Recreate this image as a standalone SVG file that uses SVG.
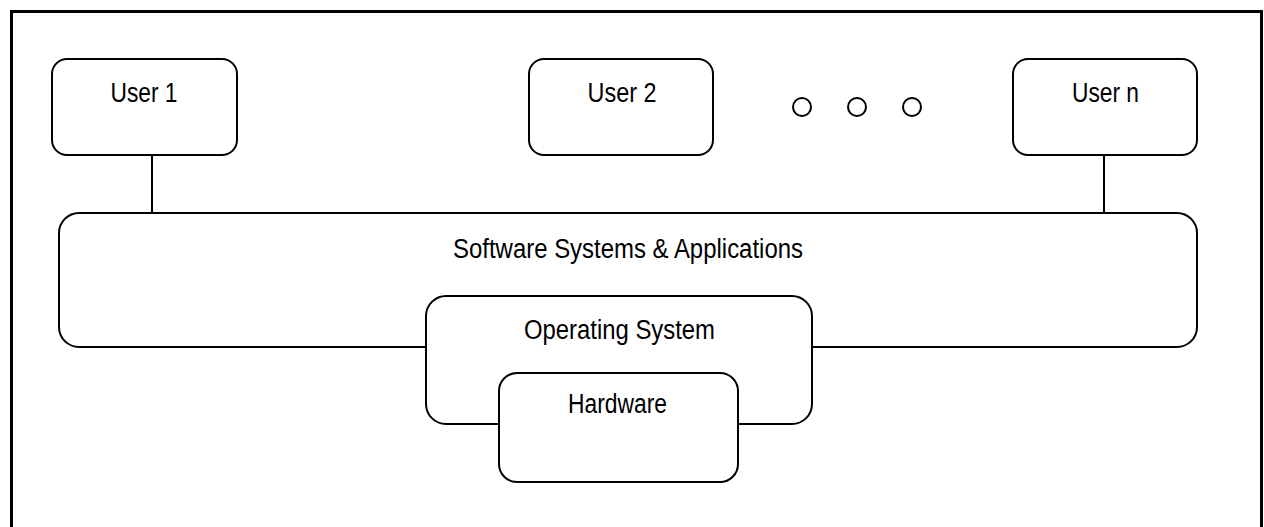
<svg xmlns="http://www.w3.org/2000/svg" width="1264" height="527" viewBox="0 0 1264 527">
<style>
.box{fill:#fff;stroke:#000;stroke-width:2}
.lbl{font-family:"Liberation Sans",Arial,sans-serif;font-size:27px;fill:#000;text-anchor:middle}
.conn{stroke:#000;stroke-width:2;fill:none}
.dot{fill:#fff;stroke:#000;stroke-width:2}
</style>
<rect x="0" y="0" width="1264" height="527" fill="#fff"/>
<rect id="frame" x="11.5" y="11.5" width="1250" height="530" fill="none" stroke="#000" stroke-width="3"/>
<g id="connectors">
<line class="conn" x1="152" y1="155" x2="152" y2="213"/>
<line class="conn" x1="1104" y1="155" x2="1104" y2="213"/>
</g>
<g id="user1"><rect class="box" x="52" y="59" width="185" height="96" rx="15"/><text class="lbl" x="144" y="102" textLength="67" lengthAdjust="spacingAndGlyphs">User 1</text></g>
<g id="user2"><rect class="box" x="529" y="59" width="184" height="96" rx="15"/><text class="lbl" x="622" y="102" textLength="69" lengthAdjust="spacingAndGlyphs">User 2</text></g>
<g id="ellipsis"><circle class="dot" cx="802" cy="107" r="9"/><circle class="dot" cx="857" cy="107" r="9"/><circle class="dot" cx="912" cy="107" r="9"/></g>
<g id="usern"><rect class="box" x="1013" y="59" width="184" height="96" rx="15"/><text class="lbl" x="1105.5" y="102" textLength="67" lengthAdjust="spacingAndGlyphs">User n</text></g>
<g id="software"><rect class="box" x="59" y="213" width="1138" height="134" rx="20"/><text class="lbl" x="628" y="258" textLength="350" lengthAdjust="spacingAndGlyphs">Software Systems &amp; Applications</text></g>
<g id="os"><rect class="box" x="426" y="296" width="386" height="128" rx="20"/><text class="lbl" x="619.5" y="339" textLength="191" lengthAdjust="spacingAndGlyphs">Operating System</text></g>
<g id="hardware"><rect class="box" x="499" y="373" width="239" height="109" rx="18"/><text class="lbl" x="617.5" y="413" textLength="99" lengthAdjust="spacingAndGlyphs">Hardware</text></g>
</svg>
